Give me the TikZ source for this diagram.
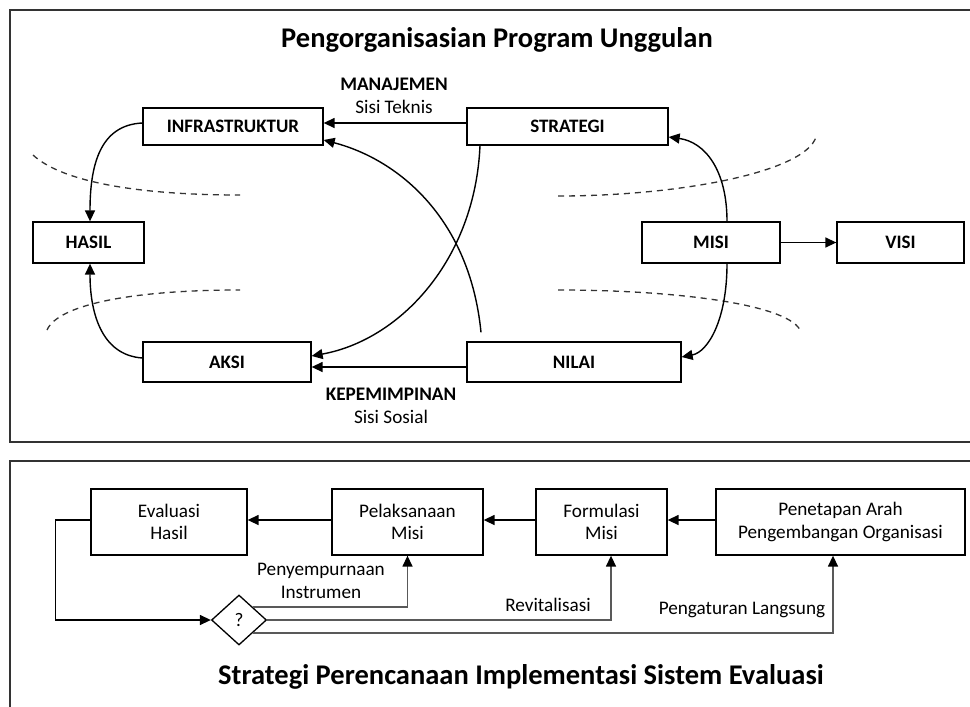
\documentclass[tikz,border=0pt]{standalone}
\usepackage{fontspec}
\setmainfont{Carlito}
\usetikzlibrary{arrows.meta,shapes.geometric}
\tikzset{
  box/.style={draw, line width=1.3pt, inner sep=0pt, font=\fontsize{19}{22}\selectfont\bfseries},
  bbox/.style={draw, line width=1.3pt, inner sep=0pt, align=center, font=\fontsize{19.2}{22.5}\selectfont},
  arr/.style={line width=1.4pt, -{Triangle[length=11pt,width=10pt]}},
  garr/.style={line width=1.4pt, draw=black!65, -{Triangle[length=11pt,width=10pt,color=black]}},
  dsh/.style={line width=1.3pt, dash pattern=on 6pt off 5pt, black!80},
  lbl/.style={font=\fontsize{19.2}{22.5}\selectfont, align=center, inner sep=0pt},
  ttl/.style={font=\fontsize{28.5}{32}\selectfont\bfseries, inner sep=0pt},
  frame/.style={line width=1.4pt, draw=black!80}
}
\begin{document}
\begin{tikzpicture}[x=1pt,y=-1pt]
\useasboundingbox (0,0) rectangle (970,707);
\clip (0,0) rectangle (970,707);
% frames
\draw[frame] (10,10) rectangle (990,442);
\draw[frame] (10,461) rectangle (990,730);
% top titles
\node[ttl] (t1) at (497,40) {Pengorganisasian Program Unggulan};
% top boxes
\node[box, minimum width=180pt, minimum height=37pt] (infra) at (233,126.5) {INFRASTRUKTUR};
\node[box, minimum width=201pt, minimum height=37pt] (strat) at (567.5,126.5) {STRATEGI};
\node[box, minimum width=111pt, minimum height=41pt] (hasil) at (88.5,242.5) {HASIL};
\node[box, minimum width=138pt, minimum height=41pt] (misi) at (711,242.5) {MISI};
\node[box, minimum width=127pt, minimum height=41pt] (visi) at (900.5,242.5) {VISI};
\node[box, minimum width=168pt, minimum height=40pt] (aksi) at (227,362) {AKSI};
\node[box, minimum width=214pt, minimum height=40pt] (nilai) at (574,362) {NILAI};
% labels
\node[lbl] (manaj) at (394,96) {\textbf{MANAJEMEN}\\Sisi Teknis};
\node[lbl] (kepem) at (391,406) {\textbf{KEPEMIMPINAN}\\Sisi Sosial};
% dashed curves
\draw[dsh] (33,155) .. controls (60,180) and (130,195) .. (240,195);
\draw[dsh] (47,330) .. controls (58,305) and (130,290) .. (240,290);
\draw[dsh] (558,196) .. controls (680,196) and (805,172) .. (816,137);
\draw[dsh] (558,290) .. controls (680,290) and (792,305) .. (801,332);
% arrows
\draw[arr] ([yshift=3.5pt]strat.west) -- ([yshift=3.5pt]infra.east);
\draw[arr] ([yshift=-5pt]nilai.west) -- ([yshift=-5pt]aksi.east);
\draw[arr] (misi.east) -- (visi.west);
\draw[arr] ([yshift=3.5pt]infra.west) .. controls (100,125) and (90,165) .. ([xshift=1.5pt]hasil.north);
\draw[arr] ([yshift=4pt]aksi.west) .. controls (100,355) and (90,310) .. ([xshift=1.5pt]hasil.south);
\draw[arr] ([xshift=16pt]misi.north) .. controls (727,170) and (705,142) .. ([yshift=-10.5pt]strat.east);
\draw[arr] ([xshift=16pt]misi.south) .. controls (727,320) and (708,352) .. ([yshift=5pt]nilai.east);
\draw[arr] ([xshift=-87.5pt]strat.south) .. controls (475,260) and (400,340) .. ([yshift=6pt]aksi.east);
\draw[arr] ([xshift=-93pt,yshift=9pt]nilai.north) .. controls (470,220) and (400,160) .. ([yshift=-13.5pt]infra.east);
% bottom
\node[bbox, minimum width=156pt, minimum height=66pt] (eval) at (169,522) {Evaluasi\\Hasil};
\node[bbox, minimum width=151pt, minimum height=66pt] (pel) at (407.5,522) {Pelaksanaan\\Misi};
\node[bbox, minimum width=131pt, minimum height=66pt] (form) at (601.5,522) {Formulasi\\Misi};
\node[bbox, minimum width=249pt, minimum height=66pt] (pen) at (840.5,522) {Penetapan Arah\\Pengembangan Organisasi};
\node[diamond, draw, line width=1.3pt, minimum width=55pt, minimum height=50pt, inner sep=0pt, font=\fontsize{19.2}{22}\selectfont] (q) at (239,620) {?};
\draw[arr] ([yshift=2pt]pen.west) -- ([yshift=2pt]form.east);
\draw[arr] ([yshift=2pt]form.west) -- ([yshift=2pt]pel.east);
\draw[arr] ([yshift=2pt]pel.west) -- ([yshift=2pt]eval.east);
\draw[arr] ([yshift=2pt]eval.west) -- ++(-35,0) |- (q.west);
\draw[garr] (q.north east) -| (pel.south);
\draw[garr] (q.east) -| ([xshift=9.5pt]form.south);
\draw[garr] (q.south east) -| ([xshift=-7.5pt]pen.south);
\node[lbl] (l1) at (321,581) {Penyempurnaan\\Instrumen};
\node[lbl] (l2) at (548,605) {Revitalisasi};
\node[lbl] (l3) at (742,610) {Pengaturan Langsung};
\node[ttl] (t2) at (521,677) {Strategi Perencanaan Implementasi Sistem Evaluasi};
\end{tikzpicture}
\end{document}
